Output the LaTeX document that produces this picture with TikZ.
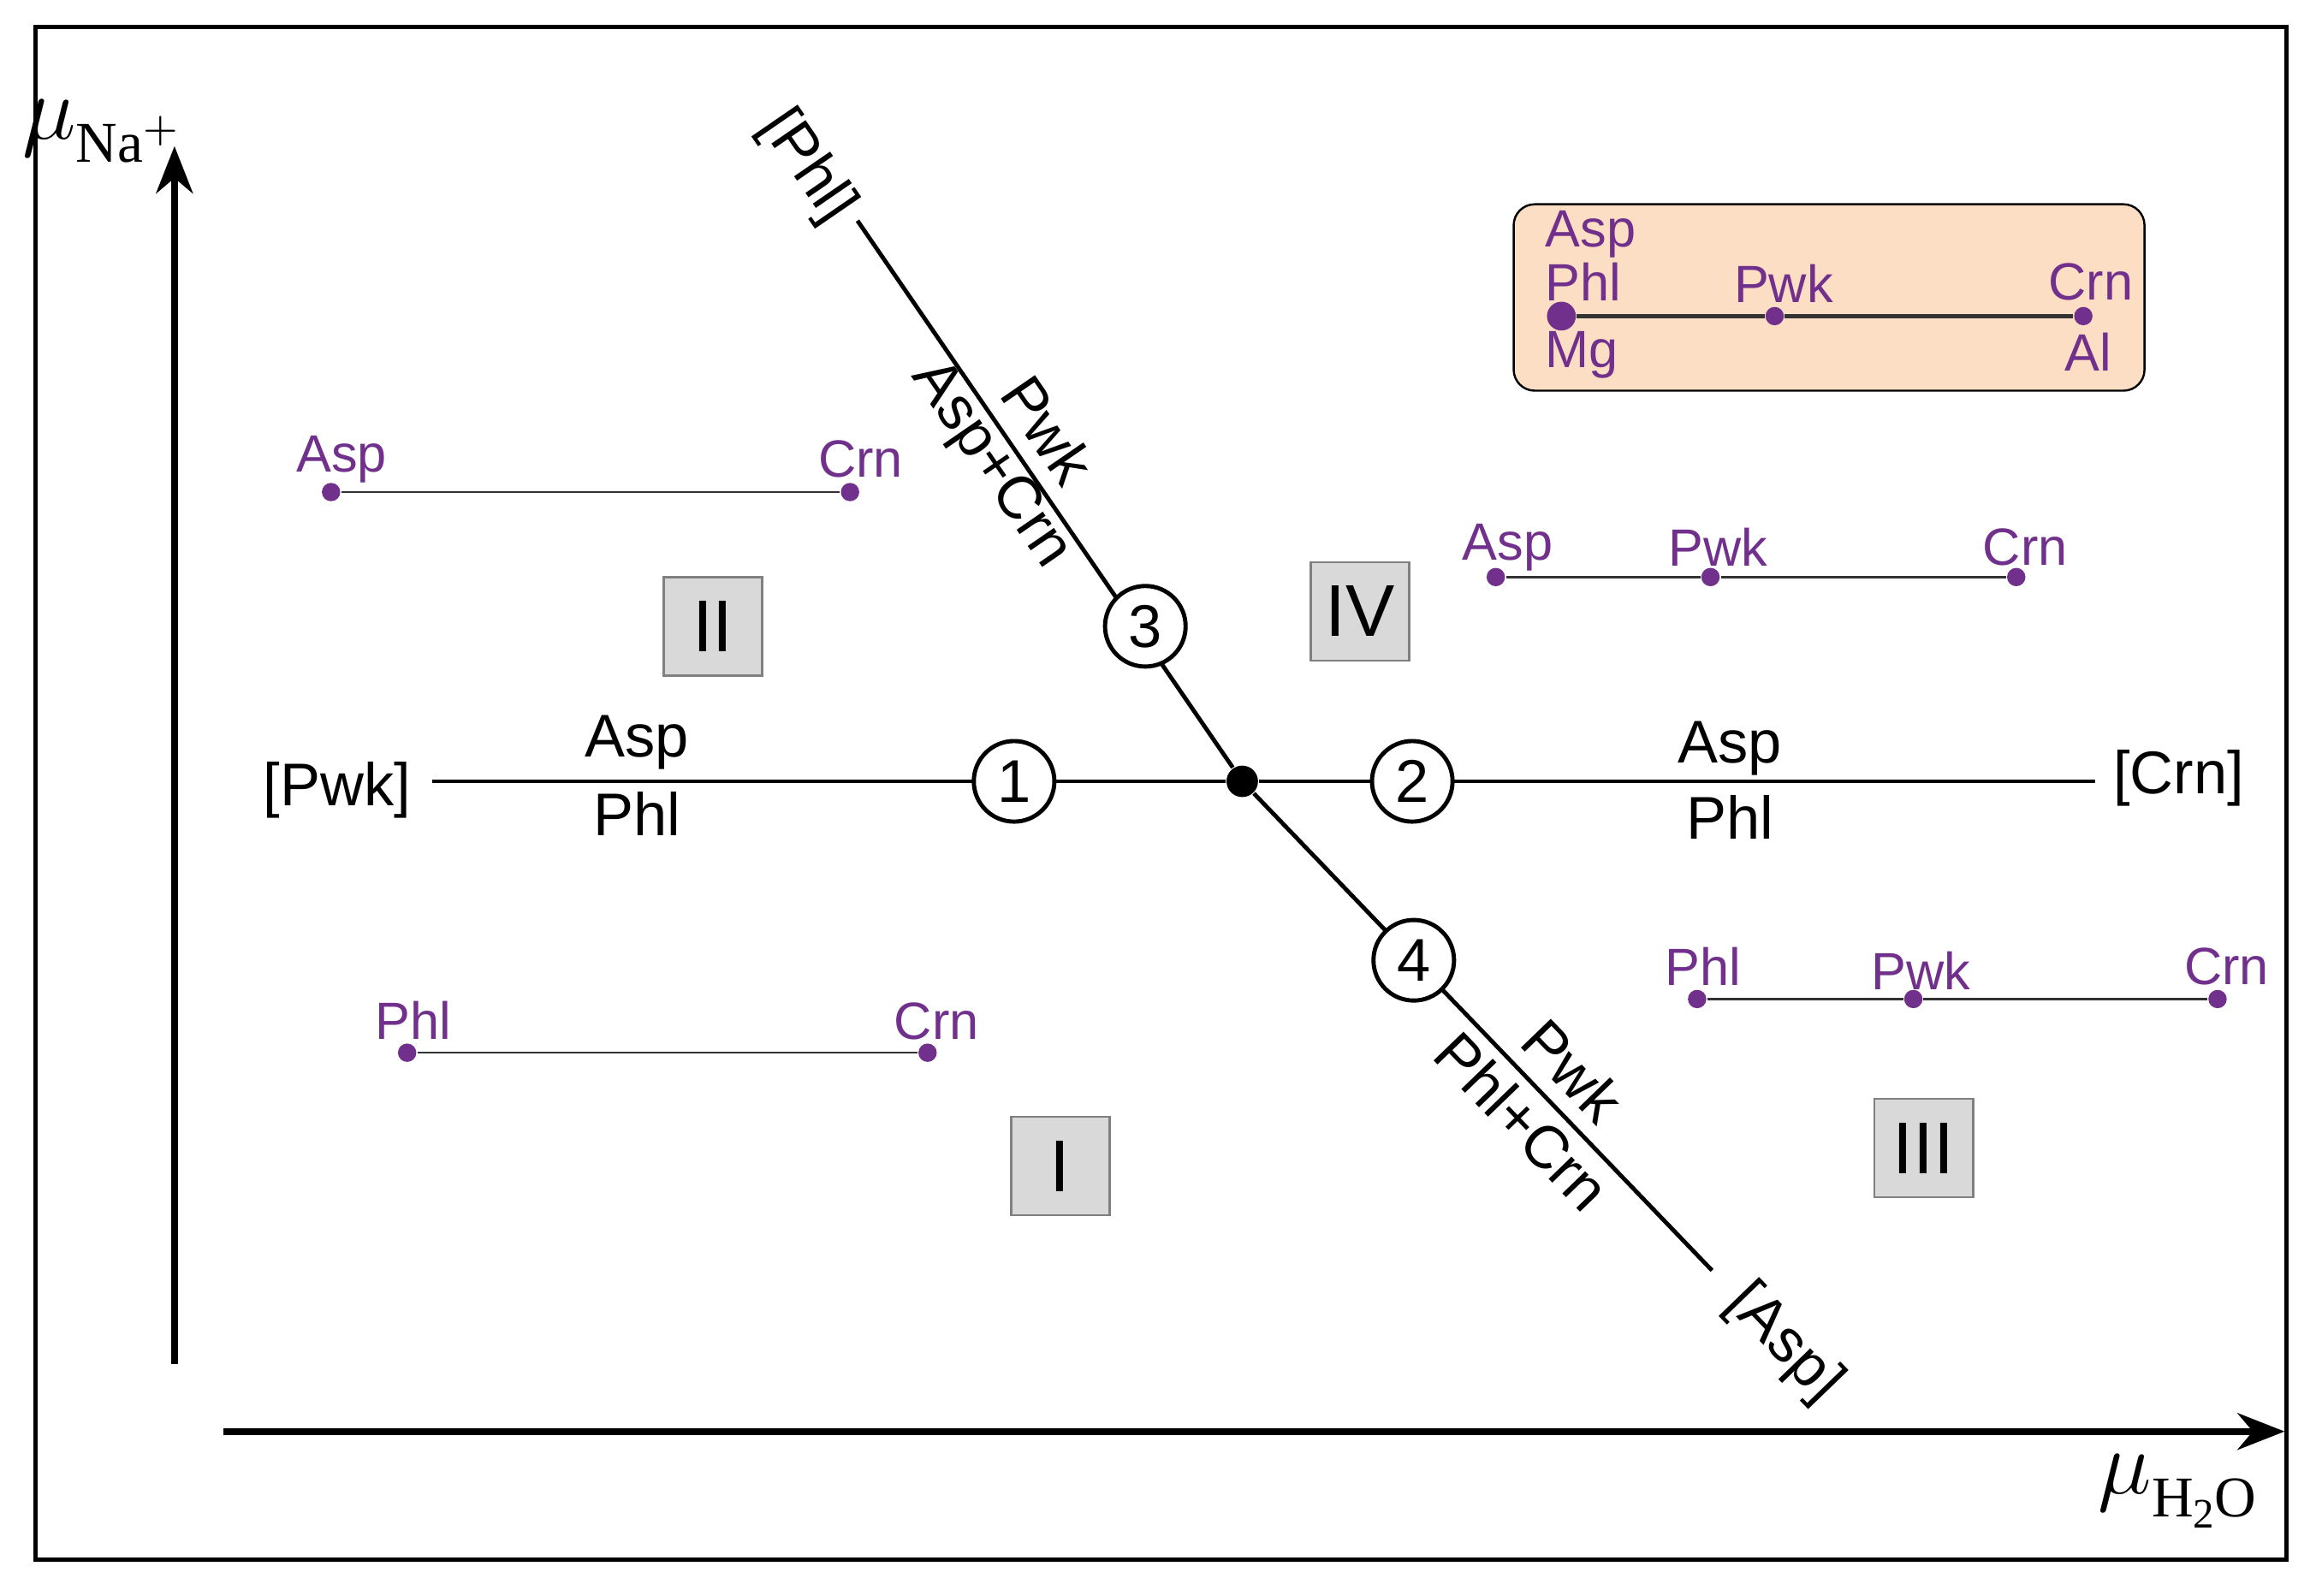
\documentclass[tikz,border=0pt]{standalone}
\usepackage{fontspec}
\setmainfont{Liberation Sans}
\newfontfamily\serifaxis{Liberation Serif}
\usetikzlibrary{arrows.meta}
\definecolor{mineral}{RGB}{112,48,140}
\definecolor{legendfill}{RGB}{252,222,196}
\tikzset{
  lbl/.style={font=\fontsize{11.5}{13}\selectfont},
  min/.style={font=\fontsize{10}{12}\selectfont, text=mineral},
  pt/.style={circle, fill=mineral, inner sep=0pt, minimum size=3.5pt},
  rxn/.style={circle, draw, thick, fill=white, minimum size=0.54cm, inner sep=0pt, font=\fontsize{11.5}{13}\selectfont},
  field/.style={draw=gray, fill=gray!30, minimum size=0.66cm, inner sep=0pt, font=\fontsize{14}{16}\selectfont},
  axis/.style={line width=1.3pt, -{Stealth[length=9pt,width=7pt]}}
}
\begin{document}
\begin{tikzpicture}[x=0.01cm, y=-0.01cm]
  \useasboundingbox (0,0) rectangle (1553,1070);
  \draw[thick] (24,18) rectangle (1533,1046);

  % axes
  \coordinate (y0) at (117,915);
  \coordinate (y1) at (117,98);
  \coordinate (x0) at (150,960);
  \coordinate (x1) at (1532,960);
  \draw[axis] (y0) -- (y1);
  \draw[axis] (x0) -- (x1);
  \node (ylab) at (68,88) {\fontsize{17}{19}\selectfont$\mu$\raisebox{-0.5ex}{\serifaxis\fontsize{11}{12}\selectfont Na$^{+}$}};
  \node (xlab) at (1460,1000) {\fontsize{17}{19}\selectfont$\mu$\raisebox{-0.5ex}{\serifaxis\fontsize{11}{12}\selectfont H\raisebox{-0.4ex}{\fontsize{8}{9}\selectfont 2}O}};

  % invariant point and univariant lines
  \node[circle, fill, inner sep=0pt, minimum size=6pt] (ip) at (833,524) {};
  \node[lbl] (pwk) at (226,530) {[Pwk]};
  \node[lbl] (crn) at (1461,522) {[Crn]};
  \node[lbl, rotate=-55.5] (phl) at (541,112) {[Phl]};
  \node[lbl, rotate=-46] (asp) at (1196,901) {[Asp]};
  \draw[thick] (290,524) coordinate (pw) -- (ip);
  \draw[thick] (ip) -- (1405,524) coordinate (cr);
  \draw[thick] (575,148) coordinate (ph) -- (ip);
  \draw[thick] (ip) -- (1148,852) coordinate (as);

  \node[rxn] (r1) at (680,524) {1};
  \node[rxn] (r2) at (947,524) {2};
  \node[rxn] (r3) at (768,420) {3};
  \node[rxn] (r4) at (948,644) {4};

  \node[lbl] at (427,498) {Asp};
  \node[lbl] at (427,546) {Phl};
  \node[lbl] at (1160,502) {Asp};
  \node[lbl] at (1160,548) {Phl};
  \node[lbl, rotate=-55.5] at (703,288) {Pwk};
  \node[lbl, rotate=-55.5] at (664,312) {Asp+Crn};
  \node[lbl, rotate=-46] at (1055,718) {Pwk};
  \node[lbl, rotate=-46] at (1021,752) {Phl+Crn};

  % fields
  \node[field] (fI) at (711,782) {I};
  \node[field] (fII) at (478,420) {II};
  \node[field] (fIII) at (1290,770) {III};
  \node[field] (fIV) at (912,410) {IV};

  % legend
  \draw[fill=legendfill, rounded corners=4pt] (1015,137) rectangle (1438,262);
  \node[pt, minimum size=5.5pt] (la) at (1047,212) {};
  \node[pt] (lb) at (1190,212) {};
  \node[pt] (lc) at (1397,212) {};
  \draw[thick, black!80] (la) -- (lb) -- (lc);
  \node[min, anchor=west] at (1024,157) {Asp};
  \node[min, anchor=west] at (1024,189) {Phl};
  \node[min, anchor=west] at (1024,238) {Mg};
  \node[min] at (1196,190) {Pwk};
  \node[min] at (1402,189) {Crn};
  \node[min] at (1400,236) {Al};

  % phase assemblages
  \node[pt] (a1) at (222,330) {};
  \node[pt] (c1) at (570,330) {};
  \draw[black!80] (a1) -- (c1);
  \node[min] at (229,308) {Asp};
  \node[min] at (577,308) {Crn};

  \node[pt] (a2) at (1003,387) {};
  \node[pt] (p2) at (1147,387) {};
  \node[pt] (c2) at (1352,387) {};
  \draw[black!80] (a2) -- (p2) -- (c2);
  \node[min] at (1011,367) {Asp};
  \node[min] at (1152,367) {Pwk};
  \node[min] at (1358,367) {Crn};

  \node[pt] (h3) at (1138,670) {};
  \node[pt] (p3) at (1283,670) {};
  \node[pt] (c3) at (1487,670) {};
  \draw[black!80] (h3) -- (p3) -- (c3);
  \node[min] at (1142,648) {Phl};
  \node[min] at (1288,651) {Pwk};
  \node[min] at (1493,648) {Crn};

  \node[pt] (h4) at (273,706) {};
  \node[pt] (c4) at (622,706) {};
  \draw[black!80] (h4) -- (c4);
  \node[min] at (277,684) {Phl};
  \node[min] at (628,685) {Crn};
\end{tikzpicture}
\end{document}
